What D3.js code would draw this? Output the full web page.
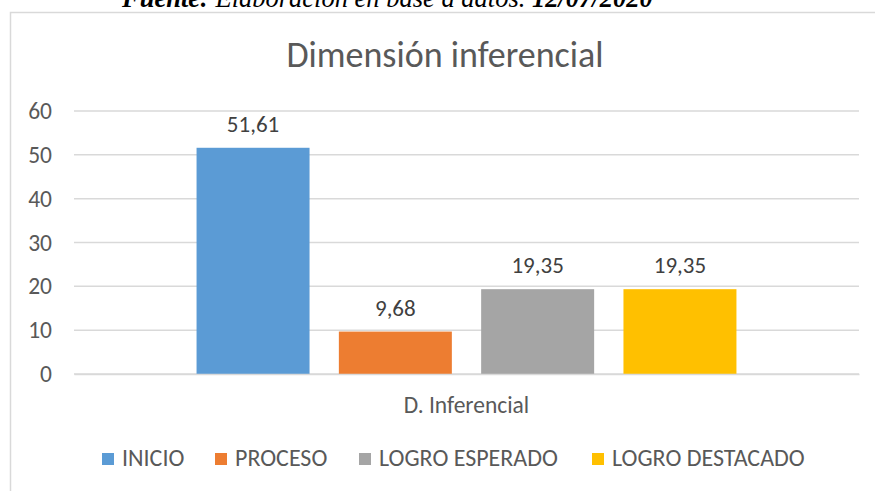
<!DOCTYPE html>
<html>
<head>
<meta charset="utf-8">
<script src="https://cdn.jsdelivr.net/npm/d3@7"></script>
<style>
  html, body { margin: 0; padding: 0; background: #ffffff; }
  svg { display: block; }
  text { font-family: Calibri, Carlito, Lato, sans-serif; }
</style>
</head>
<body>
<div id="chart"></div>
<script>
const categories = ["D. Inferencial"];
const seriesNames = ["INICIO", "PROCESO", "LOGRO ESPERADO", "LOGRO DESTACADO"];
const seriesValues = [51.61, 9.68, 19.35, 19.35];
const valueLabels = ["51,61", "9,68", "19,35", "19,35"];
const seriesColors = ["#5B9BD5", "#ED7D31", "#A5A5A5", "#FFC000"];
const yTicks = [0, 10, 20, 30, 40, 50, 60];
const chartTitle = "Dimensión inferencial";
const sourceParts = [
  { t: "Fuente:", w: "bold" },
  { t: " Elaboración en base a datos. ", w: "normal" },
  { t: "12/07/2020", w: "bold" }
];

const W = 875, H = 491;
const svg = d3.select("#chart").append("svg")
  .attr("width", W).attr("height", H);

// chart frame
svg.append("rect")
  .attr("x", 10.5).attr("y", 12.5)
  .attr("width", 870).attr("height", 500)
  .attr("fill", "#ffffff")
  .attr("stroke", "#D9D9D9").attr("stroke-width", 1.5);

// clipped source caption above the frame
svg.append("text")
  .attr("x", 122).attr("y", 7)
  .attr("font-style", "italic")
  .attr("font-size", 26.5)
  .attr("fill", "#000")
  .style("font-family", "'Liberation Serif', 'Times New Roman', serif")
  .selectAll("tspan").data(sourceParts).join("tspan")
  .attr("font-weight", d => d.w)
  .text(d => d.t);

// title
svg.append("text")
  .attr("x", 445).attr("y", 67)
  .attr("text-anchor", "middle")
  .attr("font-size", 36)
  .attr("fill", "#595959")
  .text(chartTitle);

const plotLeft = 74, plotRight = 859;
const y = d3.scaleLinear().domain([0, 60]).range([374, 111]);

// gridlines
svg.append("g").selectAll("line").data(yTicks).join("line")
  .attr("x1", plotLeft).attr("x2", plotRight)
  .attr("y1", d => y(d)).attr("y2", d => y(d))
  .attr("stroke", "#D9D9D9").attr("stroke-width", 1.5);

// y axis labels via d3 axis
const yAxis = d3.axisLeft(y).tickValues(yTicks).tickSize(0).tickPadding(0).tickFormat(d3.format("d"));
const yG = svg.append("g").attr("transform", "translate(52,0)").call(yAxis);
yG.select(".domain").remove();
yG.selectAll("text")
  .attr("font-size", 23.5)
  .attr("fill", "#595959")
  .style("font-family", "Calibri, Carlito, Lato, sans-serif");

// bars
const x0 = d3.scaleBand().domain(categories).range([plotLeft, plotRight])
  .paddingInner(0).paddingOuter(0.227);
const x1 = d3.scaleBand().domain(seriesNames).range([0, x0.bandwidth()])
  .paddingInner(0.206).paddingOuter(0);

const data = seriesNames.map((s, i) => ({ s, v: seriesValues[i], lab: valueLabels[i], c: seriesColors[i] }));

const g = svg.append("g").attr("transform", `translate(${x0(categories[0])},0)`);
g.selectAll("rect").data(data).join("rect")
  .attr("x", d => x1(d.s))
  .attr("width", x1.bandwidth())
  .attr("y", d => y(d.v))
  .attr("height", d => y(0) - y(d.v))
  .attr("fill", d => d.c);

g.selectAll("text.lab").data(data).join("text")
  .attr("class", "lab")
  .attr("x", d => x1(d.s) + x1.bandwidth() / 2)
  .attr("y", d => y(d.v) - 16)
  .attr("text-anchor", "middle")
  .attr("font-size", 23)
  .attr("fill", "#404040")
  .text(d => d.lab);

// x axis line (category)
const xAxis = d3.axisBottom(x0).tickSize(0).tickPadding(0);
const xG = svg.append("g").attr("transform", "translate(0,374)").call(xAxis);
xG.select(".domain").attr("stroke", "#D9D9D9").attr("stroke-width", 1.5);
xG.selectAll("text")
  .attr("dy", null)
  .attr("y", 39)
  .attr("font-size", 23.5)
  .attr("fill", "#595959")
  .style("font-family", "Calibri, Carlito, Lato, sans-serif");

// legend
const legendX = [102, 215, 359, 592];
const lg = svg.append("g").selectAll("g").data(data).join("g")
  .attr("transform", (d, i) => `translate(${legendX[i]},0)`);
lg.append("rect")
  .attr("x", 0).attr("y", 453)
  .attr("width", 12).attr("height", 12)
  .attr("fill", d => d.c);
lg.append("text")
  .attr("x", 20).attr("y", 466)
  .attr("font-size", 24)
  .attr("fill", "#595959")
  .text(d => d.s);
</script>
</body>
</html>
